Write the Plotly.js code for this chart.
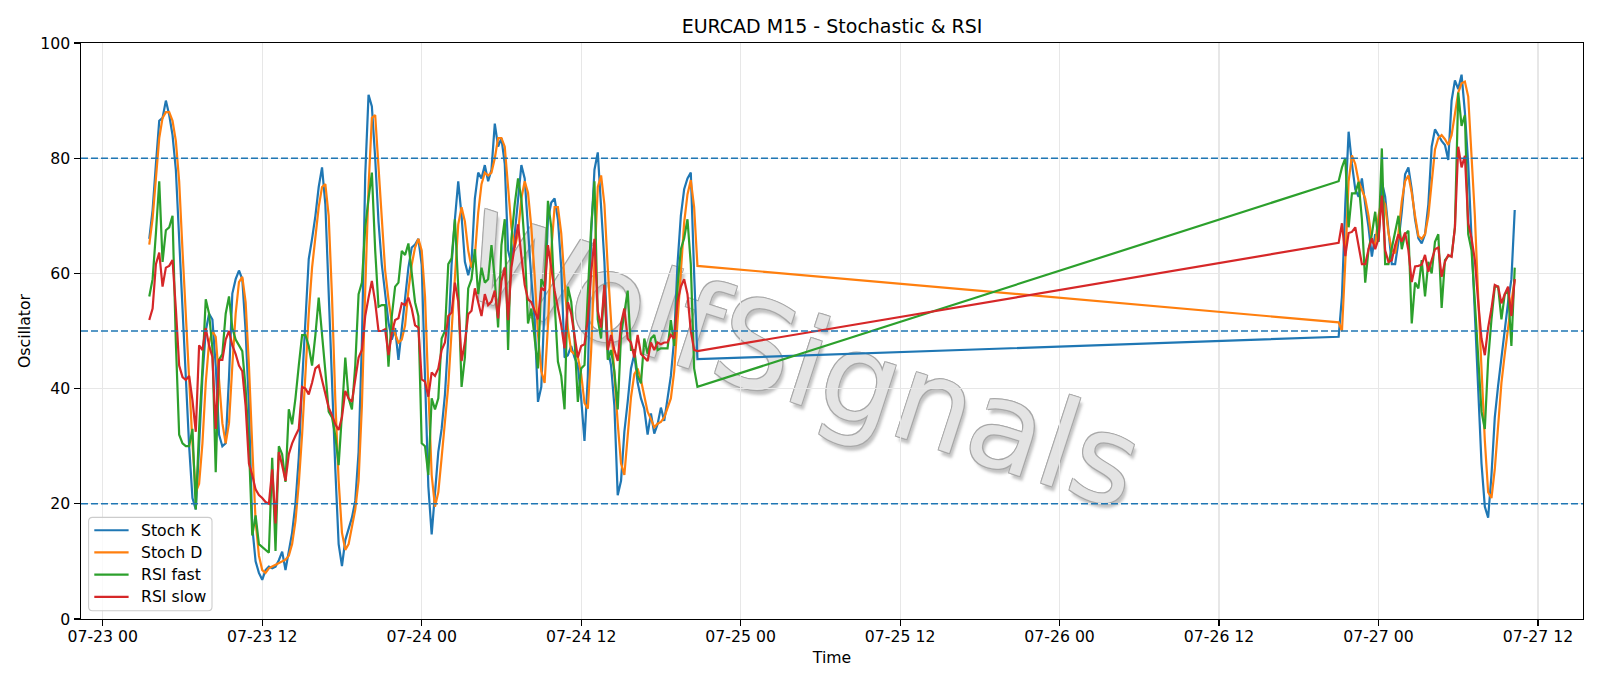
<!DOCTYPE html>
<html>
<head>
<meta charset="utf-8">
<script src="https://cdn.plot.ly/plotly-3.0.1.min.js"></script>
<style>html,body{margin:0;padding:0;background:#fff;}#chart{width:1600px;height:686px;}</style>
</head>
<body>
<div id="chart"></div>
<script>
// ---- data (EURCAD M15) ----
const seg1Start = Date.UTC(2025, 6, 23, 3, 30);   // 07-23 03:30
const seg2Start = Date.UTC(2025, 6, 26, 21, 0);   // 07-26 21:00
const barMinutes = 15;

const stochK1 = [66,71,79,86.5,87,90,87.5,84,78,66,
53,41,30,21,19,30,42,50,53,52,
44,32,30,30.5,42,56.5,59,60.5,59,50,
37,16,10,8,6.8,8.5,9.1,8.8,9.1,10.2,
11.7,8.5,12,15,20,28,41,53,62.5,66,
70,75,78.4,72,56,40,26,13,9.2,13.7,
15.7,17.6,20.5,29,48,77,91,89,80,69,
61.5,56,51.5,48.5,50.5,45,50,55,61,64.5,
65,66,61.5,42,23,14.7,21.5,29,33,39,
48.7,61.6,69.4,76,70,62,59.7,62,73,77.5,
76.5,78.8,76,78,86,82,83.5,79,64,61.6,
66.8,73.3,78.8,76.5,67.4,59,51.9,37.7,40.3,53.9,
69.4,72.3,73,69.4,61,45.4,45.8,47.4,45.4,44,
38.3,30.9,42,66.8,78,81,72,62,47,44,
37,21.5,24,32.5,37.7,43.5,46,41,38.3,36.5,
32,35.7,32.2,33.8,36.7,34.4,38.3,42.2,48.7,61.6,
70,74.6,76.5,77.5,60,45.1];
const stochK2 = [49,56,72,84.6,79,74.6,73.3,76.5,72,68,
62.9,66.8,65.5,75.9,73.3,67.4,61.6,61.6,65.5,70.7,
77.2,78.4,74.6,69.4,66.1,65.2,66.8,72,82,85,
84,83,82.3,79.7,90,93.5,92,94.5,88,79,
66,53,40,27,19.5,17.6,25,35,40.5,45.5,
51,55,59,71];

const stochD1 = [65,69.5,76.5,83.5,87,88,88,86.5,83,76,
64,53,42,30.5,22,23.5,30.5,41,48,50,
49,41,34,30.5,34,44,53,58.5,59.4,55,
44,30,17,11,8.5,8,8.8,9.1,9.4,9.7,
10,10.3,11,13,17,23.5,32,43,53,61,
66.5,71.5,75,75.5,70,56,38,24,15,12,
13,16,19,24,37,57,75,87,87.5,78.5,
69,60.5,55.5,51.5,49.5,48,48.5,51,57,61.5,
64.5,66,64,56,40,25,19.5,22,28,34,
40.5,50,60,68.5,71.5,69,64,61,63,70.5,
75.5,77.5,77,77.5,80,83.5,83.5,82,75,68,
64.5,67,73,76,74,68,59.5,49.5,43,41,
51,64,71.5,71.5,67,58.5,50.5,46.5,46,45.5,
42.5,37.5,36.5,46.5,62,75,77,72,61,51,
42.5,34,27,25,32,38.5,42.5,43.5,41.5,38.5,
36,34.7,33.3,33.9,34.2,35,36.5,38.3,43,51,
60,68.8,73.7,76.2,71.5,61.3];
const stochD2 = [51.5,50,62,76,80.5,79,76,74.5,73,70,
65.5,65,70,73,72,67,64,63.5,67,72.5,
76,77,74,70,66.5,66,66.8,70,76,81.5,
83.5,84,83.3,82.3,84,87.5,91.4,93,93.3,90.7,
81,70,56,43,31,22,21,26,34,41,
46,51,55,59];

const rsiFast1 = [56,59,67,76,62,67.5,68,70,48,32,
30.5,30,30,33,19,33,43.5,55.5,53,47,
25.5,45,46,53,56,50.5,48.5,47.5,46.5,40,
30,14.5,18,13,12.5,12,11.5,28,11.8,30,
28.6,23.8,36.4,33.8,38.3,44,49.3,49.3,47.4,44,
49.3,55.8,50,43,36,35,31.8,26.7,35.7,45.4,
38.3,36.4,44,56.4,58.4,68,73,77.5,64,54.2,
54.5,54.5,43.8,52.6,57.7,58.4,63.9,63.2,65.2,60.3,
55,52.6,30.5,30,25,38.3,36.4,38.3,48.7,50,
61.6,62.6,69.4,57.7,40.3,45.4,57.4,59,64.2,56.4,
61,58.4,59,64.9,59,50.6,64.9,69.4,46.7,66,
72,76.5,73,64.9,51.3,53.9,48.7,43.5,59,57.7,
72.6,68,55,44.7,42.2,36.4,57.7,55.1,48.7,37.7,
43.5,44.1,56.4,68,76,52,48.7,58,45,46.7,
43,36.4,49.3,53.2,57,46.7,46.7,42.2,40.9,48.7,
46,48.7,49.3,46.7,47,47,47,51.9,47.4,57.7,
64.2,66.1,69.4,61.6,43.5,40.3];
const rsiFast2 = [76,78.4,80,68,73.9,73.9,75.9,69.4,58.4,64.2,
66.8,70.7,65.5,81.7,61.6,61.6,64.2,67.4,70,64.2,
66.8,67.4,51.3,58.4,57.4,62.3,56,62,60,65.5,
66.8,54,62.3,63,63,68,91.4,85.6,87.5,66.8,
64,55,45,36,33,45,52,57.7,57.7,52,
56.4,57,47.4,61];

const rsiSlow1 = [51.9,53.9,61.6,63.6,57.7,61,61.3,62.3,53.9,44,
42,41.5,42.2,38,32.5,47.5,46.7,50.5,47.5,45.5,
33,45,45,48.5,50,47.5,46,44,43,37,
27,25,22.5,21.5,21,20.3,20,26,16.6,29,
26.7,24,28.6,30.5,31.8,33,40.3,40,39,41,
43.5,44,41.5,39,36.7,35.4,33.8,32.8,35,39.6,
38.3,37.7,42,45.4,46.7,52.6,55.8,58.7,55,50,
50,50.3,45.8,49.6,51.9,52.2,54.8,54.5,55.8,53.9,
51,50.6,41.6,41.2,38.6,42.8,42.2,43.5,46.7,48,
52.6,53.2,58.4,55.1,44.8,48,52.9,53.5,57.4,55.1,
52.6,56.4,54.5,55.1,57,52.2,58.7,61,51.9,61,
65,68.5,63,58,55.5,55,53.5,52,57.5,57,
64.9,61,57,54,51,47,55,53,49,45.4,
47.4,47.7,52,60,66,53.5,50.6,58,46.7,49.3,
46.7,44.8,51.3,53.9,48.7,48,45.4,49.3,46,45.4,
44.8,48,46.7,48,47.7,48,48,49.3,48.7,55.1,
57.7,59,56.4,50,46.7,46.5];
const rsiSlow2 = [65.3,68.7,63,67,67.2,68,65,61.6,61.6,64.2,
66.1,64.2,66,73.5,64,62,62.3,64.9,66.8,65.5,
67.1,64,58.5,61.2,61.3,61.5,63.2,60.3,62.3,64.2,
64.5,59.4,62,63.2,62.9,68,82,78.4,80.4,68.7,
66.1,62.3,55.1,48.7,45.8,50.6,53.9,58,57.7,54.8,
56.4,57.7,52.6,59];

const levels = [80, 50, 20];
const seriesNames = ['Stoch K', 'Stoch D', 'RSI fast', 'RSI slow'];
const seriesColors = ['#1f77b4', '#ff7f0e', '#2ca02c', '#d62728'];
const titleText = 'EURCAD M15 - Stochastic & RSI';
const watermarkText = 'WolfSignals';

// ---- build time axis from bar starts ----
function times(start, n) {
  const out = [];
  for (let k = 0; k < n; k++) out.push(start + k * barMinutes * 60000);
  return out;
}
const t = times(seg1Start, stochK1.length).concat(times(seg2Start, stochK2.length));
const ys = [stochK1.concat(stochK2), stochD1.concat(stochD2),
            rsiFast1.concat(rsiFast2), rsiSlow1.concat(rsiSlow2)];

const traces = ys.map((y, k) => ({
  type: 'scatter', mode: 'lines', x: t, y: y, name: seriesNames[k],
  line: {color: seriesColors[k], width: 2.2}
}));

// matplotlib-like 5% margins around the data span
const tMin = t[0], tMax = t[t.length - 1], span = tMax - tMin;
const xRange = [tMin - 0.05 * span, tMax + 0.05 * span];

// ---- geometry (pixels) ----
const W = 1600, H = 686;
const M = {l: 80.7, r: 17.3, t: 42.7, b: 67};
const PW = W - M.l - M.r, PH = H - M.t - M.b;
const px = X => (X - M.l) / PW;            // pixel x -> paper x
const py = Y => (H - M.b - Y) / PH;        // pixel y -> paper y

const FS = 15.7;
const axisCommon = {
  showline: true, linecolor: 'black', linewidth: 1.1, mirror: true,
  ticks: 'outside', ticklen: 5.6, tickwidth: 1.1, tickcolor: 'black',
  showgrid: true, gridcolor: '#e7e7e7', gridwidth: 1.1, zeroline: false,
  tickfont: {family: 'DejaVu Sans', size: FS, color: 'black'}
};

// ---- legend box (matplotlib style, lower left) ----
const lg = {L: 88.3, R: 211.7, T: 517.3, B: 610.7, r: 4, row0: 530.2, dRow: 22.2,
            lineX0: 94, lineX1: 128.3, textX: 139.3};
function roundRectPath(L, T, R, B, r) {
  const x = px, y = py;
  const rx = r / PW, ry = r / PH;
  return `M${x(L) + rx},${y(T)} L${x(R) - rx},${y(T)} Q${x(R)},${y(T)} ${x(R)},${y(T) - ry} ` +
         `L${x(R)},${y(B) + ry} Q${x(R)},${y(B)} ${x(R) - rx},${y(B)} ` +
         `L${x(L) + rx},${y(B)} Q${x(L)},${y(B)} ${x(L)},${y(B) + ry} ` +
         `L${x(L)},${y(T) - ry} Q${x(L)},${y(T)} ${x(L) + rx},${y(T)} Z`;
}
const legendShapes = [{
  type: 'path', xref: 'paper', yref: 'paper', layer: 'above',
  path: roundRectPath(lg.L, lg.T, lg.R, lg.B, lg.r),
  fillcolor: 'rgba(255,255,255,0.8)', line: {color: '#cccccc', width: 1.1}
}].concat(seriesNames.map((n, k) => ({
  type: 'line', xref: 'paper', yref: 'paper', layer: 'above',
  x0: px(lg.lineX0), x1: px(lg.lineX1), y0: py(lg.row0 + k * lg.dRow), y1: py(lg.row0 + k * lg.dRow),
  line: {color: seriesColors[k], width: 2.2}
})));
const legendTexts = seriesNames.map((n, k) => ({
  text: n, xref: 'paper', yref: 'paper', x: px(lg.textX), y: py(lg.row0 + k * lg.dRow),
  xanchor: 'left', yanchor: 'middle', showarrow: false, borderpad: 0,
  font: {family: 'DejaVu Sans', size: FS, color: 'black'}
}));

const layout = {
  width: W, height: H,
  paper_bgcolor: 'white', plot_bgcolor: 'white',
  margin: {l: M.l, r: M.r, t: M.t, b: M.b, pad: 0},
  font: {family: 'DejaVu Sans', size: FS, color: 'black'},
  showlegend: false,
  title: {text: titleText, font: {family: 'DejaVu Sans', size: 19, color: 'black'},
          x: 0.5, xref: 'paper', xanchor: 'center', y: 1 - 26 / H, yref: 'container', yanchor: 'middle'},
  xaxis: Object.assign({}, axisCommon, {
    type: 'date', range: xRange, tickformat: '%m-%d %H', dtick: 12 * 3600000,
    tick0: Date.UTC(2025, 6, 23), ticklabelstandoff: -3,
    title: {text: 'Time', font: {family: 'DejaVu Sans', size: FS, color: 'black'}, standoff: 7}
  }),
  yaxis: Object.assign({}, axisCommon, {
    range: [0, 100], dtick: 20, tick0: 0, ticklabelstandoff: 1,
    title: {text: 'Oscillator', font: {family: 'DejaVu Sans', size: FS, color: 'black'}, standoff: 5}
  }),
  shapes: [{
    // watermark, drawn beneath the data lines
    type: 'rect', xref: 'paper', yref: 'paper', x0: 0.25, x1: 0.713, y0: 0.14, y1: 0.786,
    layer: 'below', line: {width: 0}, fillcolor: 'rgba(0,0,0,0)',
    label: {text: watermarkText, textangle: 18, textposition: 'middle center',
            font: {family: 'DejaVu Sans', size: 122, color: '#e4e4e4',
                   shadow: '1px 1px 0 #a8a8a8, -1px -1px 0 #a8a8a8, 1px -1px 0 #a8a8a8, -1px 1px 0 #a8a8a8, 4px 4px 3px rgba(120,120,120,0.45)'}}
  }].concat(levels.map(v => ({
    type: 'line', xref: 'paper', x0: 0, x1: 1, yref: 'y', y0: v, y1: v, layer: 'above',
    line: {color: '#1f77b4', width: 1.4, dash: '7px,3px'}
  }))).concat(legendShapes),
  annotations: legendTexts
};

Plotly.newPlot('chart', traces, layout, {displayModeBar: false, staticPlot: true});
</script>
</body>
</html>
